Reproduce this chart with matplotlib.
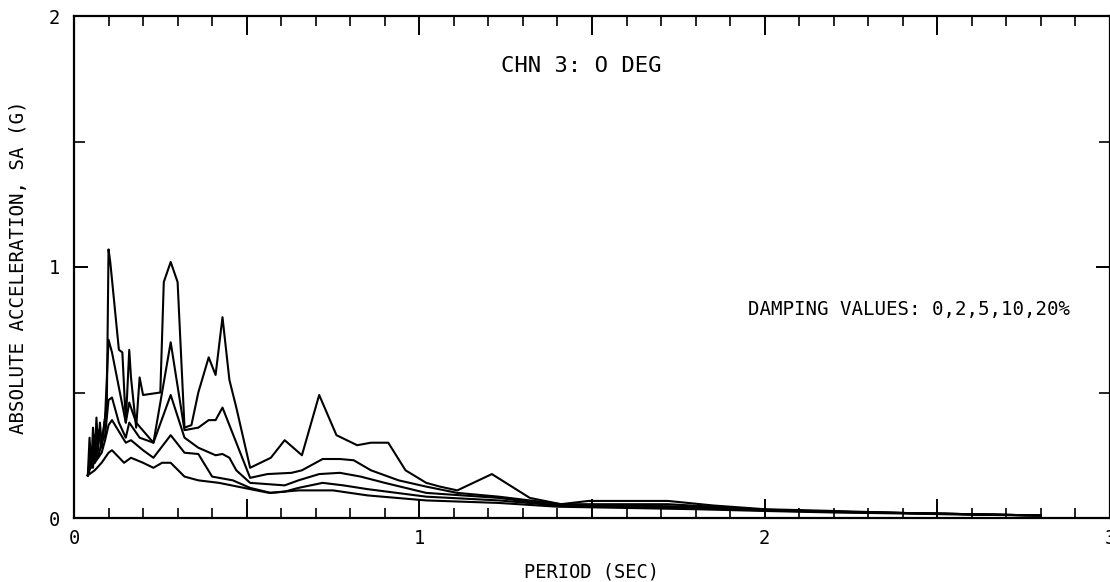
import matplotlib
matplotlib.use("Agg")
import matplotlib.pyplot as plt
from matplotlib.ticker import MultipleLocator, FuncFormatter


# spectral acceleration (g) vs period (sec), one curve per damping value
period_0 = [0.04, 0.045, 0.05, 0.055, 0.06, 0.065, 0.07, 0.075, 0.08, 0.085, 0.09, 0.095,
            0.10, 0.105, 0.13, 0.14, 0.15, 0.16, 0.165, 0.18, 0.19, 0.20, 0.25, 0.26, 0.28,
            0.30, 0.32, 0.34, 0.36, 0.39, 0.41, 0.43, 0.45, 0.47, 0.51, 0.54, 0.57, 0.61,
            0.66, 0.71, 0.76, 0.82, 0.86, 0.91, 0.96, 1.02, 1.06, 1.11, 1.21, 1.32, 1.41,
            1.49, 1.72, 1.85, 2.0, 2.2, 2.4, 2.6, 2.8]
sa_0 = [0.17, 0.32, 0.20, 0.36, 0.24, 0.40, 0.27, 0.38, 0.30, 0.35, 0.40, 0.45,
        1.07, 1.02, 0.67, 0.66, 0.38, 0.67, 0.56, 0.36, 0.56, 0.49, 0.50, 0.94, 1.02,
        0.94, 0.36, 0.37, 0.50, 0.64, 0.57, 0.80, 0.55, 0.44, 0.20, 0.22, 0.24, 0.31,
        0.25, 0.49, 0.33, 0.29, 0.30, 0.30, 0.19, 0.14, 0.125, 0.11, 0.175, 0.08, 0.055,
        0.068, 0.068, 0.05, 0.035, 0.028, 0.02, 0.015, 0.01]

period_2 = [0.04, 0.05, 0.055, 0.06, 0.065, 0.07, 0.08, 0.09, 0.10, 0.11, 0.13, 0.15,
            0.16, 0.18, 0.23, 0.28, 0.32, 0.36, 0.39, 0.41, 0.43, 0.51, 0.56, 0.63, 0.66,
            0.72, 0.77, 0.81, 0.86, 0.94, 1.02, 1.11, 1.23, 1.32, 1.41, 1.5, 1.72, 1.85,
            2.0, 2.2, 2.4, 2.6, 2.8]
sa_2 = [0.17, 0.28, 0.20, 0.33, 0.24, 0.35, 0.28, 0.40, 0.71, 0.66, 0.52, 0.38,
        0.46, 0.38, 0.30, 0.70, 0.35, 0.36, 0.39, 0.39, 0.44, 0.16, 0.175, 0.18, 0.19,
        0.235, 0.235, 0.23, 0.19, 0.15, 0.125, 0.10, 0.085, 0.07, 0.055, 0.055, 0.055, 0.045,
        0.033, 0.025, 0.02, 0.015, 0.01]

period_5 = [0.04, 0.05, 0.06, 0.065, 0.07, 0.08, 0.09, 0.10, 0.11, 0.13, 0.15, 0.16,
            0.19, 0.23, 0.28, 0.32, 0.36, 0.41, 0.43, 0.45, 0.47, 0.51, 0.61, 0.65, 0.71,
            0.77, 0.83, 0.90, 1.02, 1.23, 1.4, 1.6, 1.8, 2.0, 2.2, 2.4, 2.6, 2.8]
sa_5 = [0.17, 0.24, 0.22, 0.29, 0.24, 0.30, 0.33, 0.47, 0.48, 0.38, 0.32, 0.38,
        0.32, 0.30, 0.49, 0.32, 0.28, 0.25, 0.255, 0.24, 0.19, 0.14, 0.13, 0.15, 0.175,
        0.18, 0.165, 0.14, 0.10, 0.08, 0.05, 0.05, 0.045, 0.032, 0.025, 0.02, 0.015, 0.01]

period_10 = [0.04, 0.05, 0.06, 0.07, 0.08, 0.09, 0.10, 0.11, 0.15, 0.165, 0.20, 0.23,
             0.28, 0.32, 0.36, 0.40, 0.46, 0.51, 0.57, 0.61, 0.65, 0.72, 0.78, 0.85, 1.02,
             1.23, 1.4, 1.6, 1.8, 2.0, 2.2, 2.4, 2.6, 2.8]
sa_10 = [0.17, 0.21, 0.22, 0.24, 0.26, 0.31, 0.37, 0.39, 0.30, 0.31, 0.27, 0.24,
         0.33, 0.26, 0.255, 0.165, 0.15, 0.12, 0.10, 0.105, 0.12, 0.14, 0.13, 0.115, 0.085,
         0.07, 0.05, 0.045, 0.04, 0.03, 0.024, 0.02, 0.015, 0.01]

period_20 = [0.04, 0.06, 0.08, 0.09, 0.10, 0.11, 0.145, 0.165, 0.20, 0.23, 0.255, 0.28,
             0.32, 0.36, 0.42, 0.51, 0.565, 0.65, 0.75, 0.85, 1.02, 1.23, 1.4, 1.6, 1.8,
             2.0, 2.2, 2.4, 2.6, 2.8]
sa_20 = [0.17, 0.19, 0.22, 0.24, 0.26, 0.27, 0.22, 0.24, 0.22, 0.20, 0.22, 0.22,
         0.165, 0.15, 0.14, 0.115, 0.10, 0.11, 0.11, 0.09, 0.07, 0.06, 0.045, 0.04, 0.035,
         0.028, 0.022, 0.018, 0.013, 0.01]

curves = [(period_0, sa_0), (period_2, sa_2), (period_5, sa_5),
          (period_10, sa_10), (period_20, sa_20)]

TITLE = "CHN 3: O DEG"
NOTE = "DAMPING VALUES: 0,2,5,10,20%"

plt.rcParams["font.family"] = ["DejaVu Sans Mono", "DejaVu Sans"]

fig = plt.figure(figsize=(11.1, 5.82), dpi=100)
ax = fig.add_axes([74 / 1110, 64 / 582, 1036 / 1110, 502 / 582])

for per, sa in curves:
    ax.plot(per, sa, color="black", linewidth=1.5)

ax.set_xlim(0, 3)
ax.set_ylim(0, 2)

for side in ("top", "bottom", "left", "right"):
    ax.spines[side].set_linewidth(1.6)

ax.xaxis.set_major_locator(MultipleLocator(0.5))
ax.xaxis.set_minor_locator(MultipleLocator(0.1))
ax.xaxis.set_major_formatter(FuncFormatter(lambda v, p: f"{v:.0f}" if abs(v - round(v)) < 1e-6 else ""))
ax.yaxis.set_major_locator(MultipleLocator(1))
ax.yaxis.set_minor_locator(MultipleLocator(0.5))
ax.yaxis.set_major_formatter(FuncFormatter(lambda v, p: f"{v:.0f}"))

ax.tick_params(axis="x", which="major", direction="in", top=True, length=14, width=1.4,
               labelsize=13.5, pad=8)
ax.tick_params(axis="x", which="minor", direction="in", top=True, length=7, width=1.2)
ax.tick_params(axis="y", which="major", direction="in", right=True, length=10, width=1.4,
               labelsize=13.5, pad=10)
ax.tick_params(axis="y", which="minor", direction="in", right=True, length=8, width=1.2)

ax.set_xlabel("PERIOD (SEC)", fontsize=13.5)
ax.xaxis.set_label_coords(0.5, -0.088)
ax.set_ylabel("ABSOLUTE ACCELERATION, SA (G)", fontsize=13.8)
ax.yaxis.set_label_coords(-0.044, 0.5)

ax.text(1.47, 1.80, TITLE, fontsize=16, ha="center", va="center")
ax.text(2.884, 0.83, NOTE, fontsize=13.8, ha="right", va="center")

fig.savefig("out.png", dpi=100)
